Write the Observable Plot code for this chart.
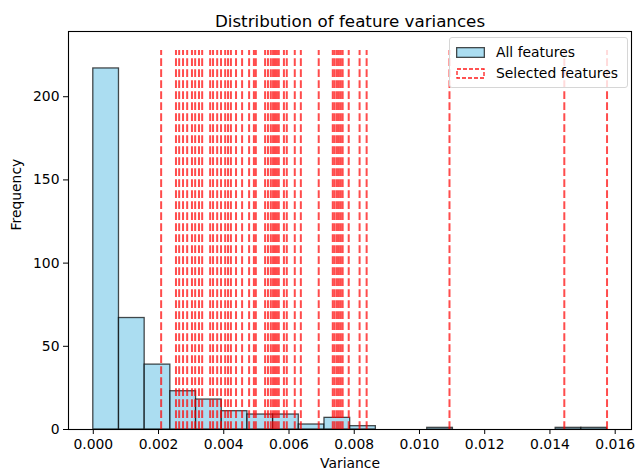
<!DOCTYPE html>
<html>
<head>
<meta charset="utf-8">
<script src="https://cdn.jsdelivr.net/npm/d3@7"></script>
<script src="https://cdn.jsdelivr.net/npm/@observablehq/plot@0.6"></script>
<style>
  html, body { margin: 0; padding: 0; background: white; }
  #wrap { position: relative; width: 636px; height: 473px; font-family: "DejaVu Sans", sans-serif; }
  #legend { position: absolute; left: 449px; top: 37px; width: 179px; height: 51px;
    border: 1px solid #d6d6d6; border-radius: 3px; background: rgba(255,255,255,0.8);
    box-sizing: border-box; font-size: 13.9px; color: #000; }
  .row { position: absolute; left: 0; height: 20px; display: flex; align-items: center; }
  .row svg { margin-left: 6px; margin-right: 11px; }
</style>
</head>
<body>
<div id="wrap"></div>
<script>
// ---- data ----
const binCounts = [217, 67, 39, 23, 18, 11, 9, 9, 3, 7, 2, 0, 0, 1, 0, 0, 0, 0, 1, 1];
const binMin = 0;
const binMax = 0.01575;
const selectedVariances = [
  0.00208, 0.002535, 0.002633, 0.002751, 0.002878, 0.003025, 0.003123, 0.00324, 0.003338,
  0.003583, 0.003671, 0.003798, 0.003916, 0.004043, 0.004131, 0.004219, 0.004376, 0.004562,
  0.004777, 0.004924, 0.004983, 0.005267, 0.005355, 0.005443, 0.005511, 0.00557, 0.005629,
  0.005687, 0.005844, 0.005932, 0.006177, 0.006363, 0.006911, 0.007342, 0.0074, 0.007469,
  0.007528, 0.007587, 0.007645, 0.007831, 0.008164, 0.00838, 0.01092, 0.01444, 0.01575
];
const xTicks = [0, 0.002, 0.004, 0.006, 0.008, 0.010, 0.012, 0.014, 0.016];
const yTicks = [0, 50, 100, 150, 200];
const titleText = "Distribution of feature variances";
const xLabel = "Variance";
const yLabel = "Frequency";
const legendLabels = ["All features", "Selected features"];

// ---- derived tables ----
const nBins = binCounts.length;
const bw = (binMax - binMin) / nBins;
const bins = binCounts.map((c, i) => ({x1: binMin + i * bw, x2: binMin + (i + 1) * bw, count: c}));
const lineTop = d3.max(binCounts) * 1.05;

const chart = Plot.plot({
  width: 636, height: 473,
  marginLeft: 68, marginRight: 5, marginTop: 31, marginBottom: 44,
  style: {fontFamily: "DejaVu Sans", fontSize: "13.9px", color: "black", background: "white", overflow: "visible"},
  x: {domain: [-0.00076, 0.0165]},
  y: {domain: [0, 239.2]},
  marks: [
    Plot.rectY(bins, {x1: "x1", x2: "x2", y1: 0, y2: "count", fill: "#87CEEB", fillOpacity: 0.7,
      stroke: "black", strokeOpacity: 0.7, strokeWidth: 1.3}),
    Plot.ruleX(selectedVariances, {x: d => d, y1: 0, y2: lineTop, stroke: "red", strokeOpacity: 0.7,
      strokeWidth: 2, strokeDasharray: "7.7,3.3"}),
    Plot.frame({stroke: "black", strokeWidth: 1.1}),
    Plot.axisX({ticks: xTicks, tickFormat: d3.format(".3f"), tickSize: 5, tickPadding: 5, label: null, fontSize: 13.9}),
    Plot.axisY({ticks: yTicks, tickSize: 5, tickPadding: 4, label: null, fontSize: 13.9}),
    Plot.text([titleText], {frameAnchor: "top", dy: -16, fontSize: 16.7, fill: "black"}),
    Plot.text([xLabel], {frameAnchor: "bottom", dy: 38, fontSize: 13.9, fill: "black"}),
    Plot.text([yLabel], {frameAnchor: "left", dx: -52, rotate: -90, fontSize: 13.9, fill: "black"})
  ]
});

const wrap = document.getElementById("wrap");
wrap.appendChild(chart);

// legend
const legend = document.createElement("div");
legend.id = "legend";
legend.innerHTML = `
  <div class="row" style="top:4px">
    <svg width="29" height="11"><rect x="0.65" y="0.65" width="27.7" height="9.7" fill="#87CEEB" fill-opacity="0.7" stroke="black" stroke-opacity="0.7" stroke-width="1.3"/></svg>
    <span>${legendLabels[0]}</span>
  </div>
  <div class="row" style="top:25px">
    <svg width="29" height="11"><rect x="1" y="1" width="27" height="9" fill="none" stroke="red" stroke-opacity="0.9" stroke-width="1.3" stroke-dasharray="4,2"/></svg>
    <span>${legendLabels[1]}</span>
  </div>`;
wrap.appendChild(legend);
</script>
</body>
</html>
